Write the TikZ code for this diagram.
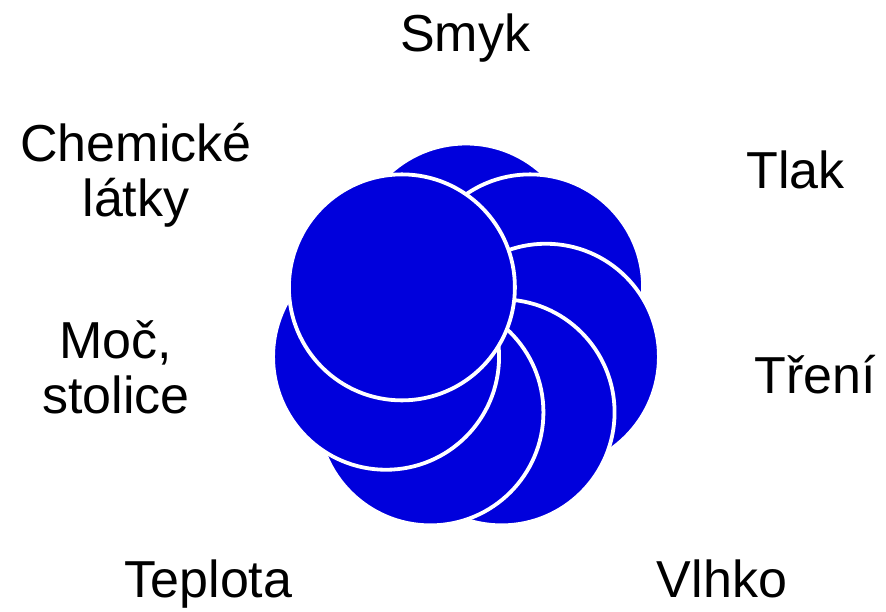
\documentclass[tikz,border=0pt]{standalone}
\usepackage{fontspec}
\setmainfont{Liberation Sans}
\usetikzlibrary{calc}
\definecolor{petal}{RGB}{0,0,220}
\begin{document}
\begin{tikzpicture}[x=1pt,y=-1pt,
  petalstyle/.style={fill=petal,draw=white,line width=3.8pt},
  lbl/.style={font=\fontsize{52}{55}\selectfont,align=center,inner sep=0pt,anchor=base}]
\useasboundingbox (0,0) rectangle (886,612);
\coordinate (c) at (466,338.5);
\foreach \a/\n in {90/smyk,38.571/tlak,-12.857/treni,-64.286/vlhko,-115.714/teplota,-167.143/moc,141.429/chem}{
  \path[petalstyle] ($(c)+({82*cos(\a)},{-82*sin(\a)})$) circle[radius=113pt];
}
\node[lbl] (lsmyk) at (465,52) {Smyk};
\node[lbl] (ltlak) at (795.5,189) {Tlak};
\node[lbl] (ltreni) at (815.5,393) {Tření};
\node[lbl] (lvlhko) at (722,597) {Vlhko};
\node[lbl] (lteplota) at (208.5,597) {Teplota};
\node[lbl] (lchem) at (136,217) {Chemické\\látky};
\node[lbl] (lmoc) at (116,413) {Moč,\\stolice};
\end{tikzpicture}
\end{document}
